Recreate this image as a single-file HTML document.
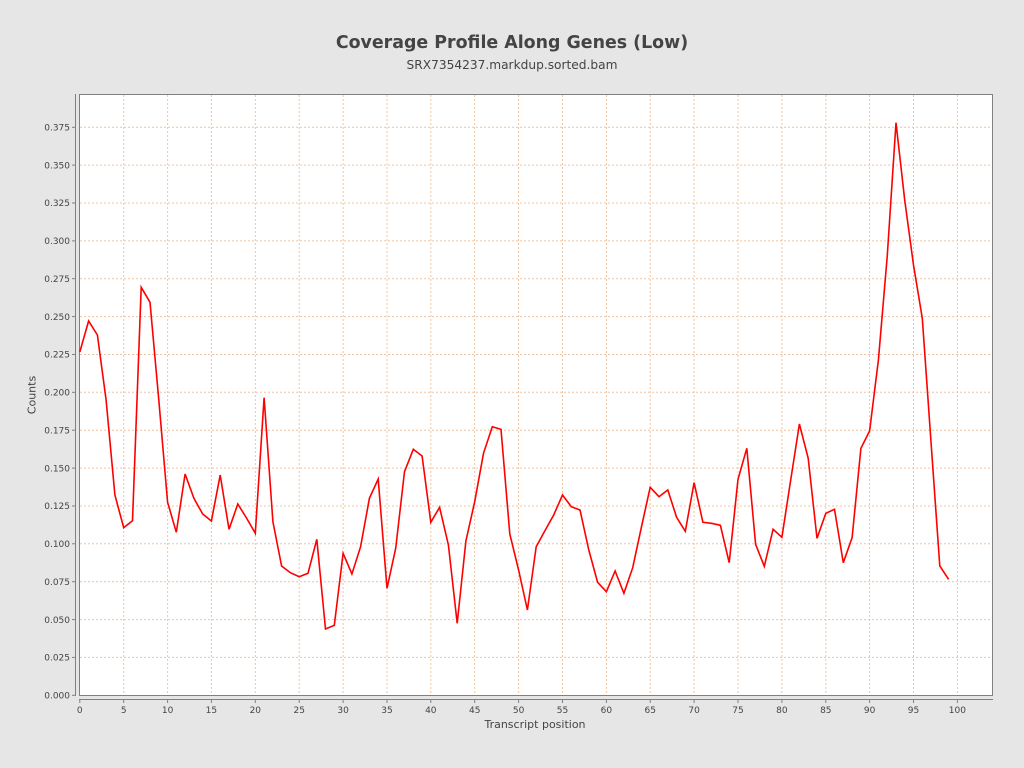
<!DOCTYPE html>
<html><head><meta charset="utf-8"><style>
html,body{margin:0;padding:0;background:#e6e6e6;}
svg{display:block;}
text{font-family:"DejaVu Sans","Liberation Sans",sans-serif;fill:#444;}
</style></head><body>
<svg width="1024" height="768" viewBox="0 0 1024 768" xmlns="http://www.w3.org/2000/svg">
<rect x="0" y="0" width="1024" height="768" fill="#e6e6e6"/>
<text x="512" y="48" font-size="17.4" font-weight="bold" text-anchor="middle">Coverage Profile Along Genes (Low)</text>
<text x="512" y="69" font-size="12.2" text-anchor="middle">SRX7354237.markdup.sorted.bam</text>
<rect x="79.5" y="94.5" width="913" height="601" fill="#fff"/>
<g stroke="#f0c4a0" stroke-width="1" stroke-dasharray="2,2" fill="none">
<line x1="123.7" y1="95" x2="123.7" y2="695"/><line x1="167.6" y1="95" x2="167.6" y2="695"/><line x1="211.4" y1="95" x2="211.4" y2="695"/><line x1="255.3" y1="95" x2="255.3" y2="695"/><line x1="299.2" y1="95" x2="299.2" y2="695"/><line x1="343.1" y1="95" x2="343.1" y2="695"/><line x1="387.0" y1="95" x2="387.0" y2="695"/><line x1="430.8" y1="95" x2="430.8" y2="695"/><line x1="474.7" y1="95" x2="474.7" y2="695"/><line x1="518.6" y1="95" x2="518.6" y2="695"/><line x1="562.5" y1="95" x2="562.5" y2="695"/><line x1="606.4" y1="95" x2="606.4" y2="695"/><line x1="650.2" y1="95" x2="650.2" y2="695"/><line x1="694.1" y1="95" x2="694.1" y2="695"/><line x1="738.0" y1="95" x2="738.0" y2="695"/><line x1="781.9" y1="95" x2="781.9" y2="695"/><line x1="825.8" y1="95" x2="825.8" y2="695"/><line x1="869.6" y1="95" x2="869.6" y2="695"/><line x1="913.5" y1="95" x2="913.5" y2="695"/><line x1="957.4" y1="95" x2="957.4" y2="695"/>
<line x1="80" y1="657.4" x2="992" y2="657.4"/><line x1="80" y1="619.6" x2="992" y2="619.6"/><line x1="80" y1="581.7" x2="992" y2="581.7"/><line x1="80" y1="543.8" x2="992" y2="543.8"/><line x1="80" y1="506.0" x2="992" y2="506.0"/><line x1="80" y1="468.1" x2="992" y2="468.1"/><line x1="80" y1="430.2" x2="992" y2="430.2"/><line x1="80" y1="392.3" x2="992" y2="392.3"/><line x1="80" y1="354.5" x2="992" y2="354.5"/><line x1="80" y1="316.6" x2="992" y2="316.6"/><line x1="80" y1="278.7" x2="992" y2="278.7"/><line x1="80" y1="240.9" x2="992" y2="240.9"/><line x1="80" y1="203.0" x2="992" y2="203.0"/><line x1="80" y1="165.1" x2="992" y2="165.1"/><line x1="80" y1="127.3" x2="992" y2="127.3"/>
</g>
<rect x="79.5" y="94.5" width="913" height="601" fill="none" stroke="#808080" stroke-width="1"/>
<polyline fill="none" stroke="#ff0000" stroke-width="1.6" stroke-linejoin="miter" points="79.8,352 88.6,321 97.4,335 106.1,400 114.9,495 123.7,527.7 132.5,520.7 141.2,287.3 150.0,302.3 158.8,400 167.6,502.3 176.3,532.3 185.1,474 193.9,498.3 202.7,514 211.4,521 220.2,475 229.0,529.3 237.8,504 246.5,518 255.3,533.3 264.1,397.7 272.9,521.7 281.6,566 290.4,572.7 299.2,576.7 308.0,573.3 316.8,539.3 325.5,629 334.3,625.3 343.1,553.3 351.9,574 360.6,546.7 369.4,498.3 378.2,479 387.0,588.3 395.7,548.3 404.5,471.7 413.3,449.3 422.1,456 430.8,522.3 439.6,507.3 448.4,545 457.2,623.3 465.9,541 474.7,501.7 483.5,453.3 492.3,426.7 501.0,429.3 509.8,534 518.6,570 527.4,610 536.2,546.7 544.9,530.7 553.7,515 562.5,495 571.3,506.7 580.0,510 588.8,550 597.6,582.3 606.4,591.7 615.1,571 623.9,593.3 632.7,567.7 641.5,526.7 650.2,487.3 659.0,496.7 667.8,490 676.6,517.3 685.3,531.3 694.1,482.7 702.9,522.3 711.7,523.3 720.4,525.3 729.2,562.7 738.0,479.3 746.8,448.3 755.6,544.3 764.3,566.3 773.1,529.3 781.9,537.3 790.7,480 799.4,424 808.2,458.3 817.0,538.3 825.8,513.3 834.5,509.3 843.3,562.7 852.1,537.7 860.9,448.3 869.6,431 878.4,360 887.2,256.7 896.0,122.7 904.7,200 913.5,265 922.3,318.3 931.1,443.3 939.8,566 948.6,579.3"/>
<g stroke="#808080" stroke-width="1" fill="none">
<line x1="75.5" y1="94" x2="75.5" y2="696"/>
<line x1="79" y1="699.5" x2="993" y2="699.5"/>
<line x1="72" y1="695.3" x2="75" y2="695.3"/><line x1="72" y1="657.4" x2="75" y2="657.4"/><line x1="72" y1="619.6" x2="75" y2="619.6"/><line x1="72" y1="581.7" x2="75" y2="581.7"/><line x1="72" y1="543.8" x2="75" y2="543.8"/><line x1="72" y1="506.0" x2="75" y2="506.0"/><line x1="72" y1="468.1" x2="75" y2="468.1"/><line x1="72" y1="430.2" x2="75" y2="430.2"/><line x1="72" y1="392.3" x2="75" y2="392.3"/><line x1="72" y1="354.5" x2="75" y2="354.5"/><line x1="72" y1="316.6" x2="75" y2="316.6"/><line x1="72" y1="278.7" x2="75" y2="278.7"/><line x1="72" y1="240.9" x2="75" y2="240.9"/><line x1="72" y1="203.0" x2="75" y2="203.0"/><line x1="72" y1="165.1" x2="75" y2="165.1"/><line x1="72" y1="127.3" x2="75" y2="127.3"/>
<line x1="79.8" y1="700" x2="79.8" y2="703"/><line x1="123.7" y1="700" x2="123.7" y2="703"/><line x1="167.6" y1="700" x2="167.6" y2="703"/><line x1="211.4" y1="700" x2="211.4" y2="703"/><line x1="255.3" y1="700" x2="255.3" y2="703"/><line x1="299.2" y1="700" x2="299.2" y2="703"/><line x1="343.1" y1="700" x2="343.1" y2="703"/><line x1="387.0" y1="700" x2="387.0" y2="703"/><line x1="430.8" y1="700" x2="430.8" y2="703"/><line x1="474.7" y1="700" x2="474.7" y2="703"/><line x1="518.6" y1="700" x2="518.6" y2="703"/><line x1="562.5" y1="700" x2="562.5" y2="703"/><line x1="606.4" y1="700" x2="606.4" y2="703"/><line x1="650.2" y1="700" x2="650.2" y2="703"/><line x1="694.1" y1="700" x2="694.1" y2="703"/><line x1="738.0" y1="700" x2="738.0" y2="703"/><line x1="781.9" y1="700" x2="781.9" y2="703"/><line x1="825.8" y1="700" x2="825.8" y2="703"/><line x1="869.6" y1="700" x2="869.6" y2="703"/><line x1="913.5" y1="700" x2="913.5" y2="703"/><line x1="957.4" y1="700" x2="957.4" y2="703"/>
</g>
<g font-size="9" text-anchor="end">
<text x="70" y="698.5">0.000</text><text x="70" y="660.6">0.025</text><text x="70" y="622.8">0.050</text><text x="70" y="584.9">0.075</text><text x="70" y="547.0">0.100</text><text x="70" y="509.2">0.125</text><text x="70" y="471.3">0.150</text><text x="70" y="433.4">0.175</text><text x="70" y="395.5">0.200</text><text x="70" y="357.7">0.225</text><text x="70" y="319.8">0.250</text><text x="70" y="281.9">0.275</text><text x="70" y="244.1">0.300</text><text x="70" y="206.2">0.325</text><text x="70" y="168.3">0.350</text><text x="70" y="130.5">0.375</text>
</g>
<g font-size="9" text-anchor="middle">
<text x="79.8" y="713">0</text><text x="123.7" y="713">5</text><text x="167.6" y="713">10</text><text x="211.4" y="713">15</text><text x="255.3" y="713">20</text><text x="299.2" y="713">25</text><text x="343.1" y="713">30</text><text x="387.0" y="713">35</text><text x="430.8" y="713">40</text><text x="474.7" y="713">45</text><text x="518.6" y="713">50</text><text x="562.5" y="713">55</text><text x="606.4" y="713">60</text><text x="650.2" y="713">65</text><text x="694.1" y="713">70</text><text x="738.0" y="713">75</text><text x="781.9" y="713">80</text><text x="825.8" y="713">85</text><text x="869.6" y="713">90</text><text x="913.5" y="713">95</text><text x="957.4" y="713">100</text>
</g>
<text x="535" y="728" font-size="11" text-anchor="middle">Transcript position</text>
<text x="0" y="0" font-size="11" text-anchor="middle" transform="translate(35.5,395) rotate(-90)">Counts</text>
</svg>
</body></html>
